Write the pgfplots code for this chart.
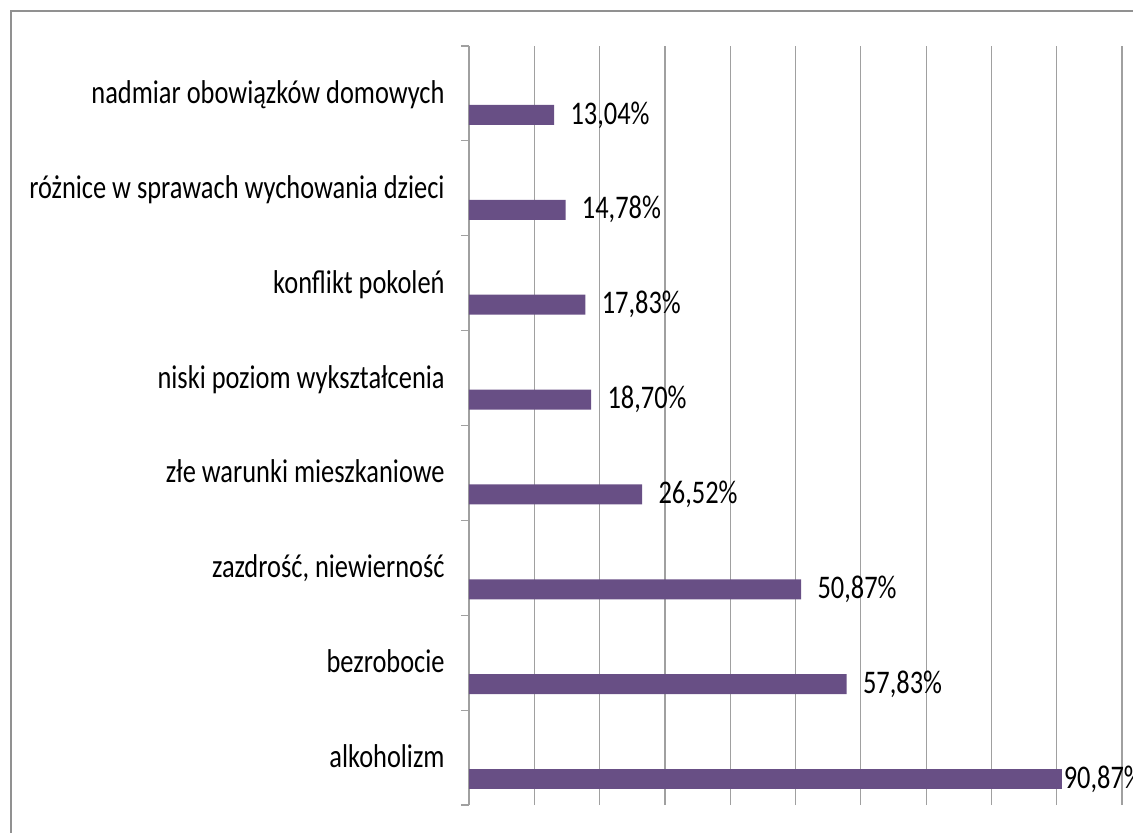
\documentclass[border=0pt]{standalone}
\usepackage{fontspec}
\setmainfont{Carlito}[FakeStretch=0.8]
\usepackage{pgfplots}
\pgfplotsset{compat=1.18}
\usetikzlibrary{calc}
\definecolor{barpurple}{RGB}{104,79,133}
\definecolor{gridgray}{RGB}{160,160,160}
\definecolor{framegray}{RGB}{145,145,145}

\begin{document}
\begin{tikzpicture}[font=\fontsize{16.5pt}{19pt}\selectfont]
\begin{axis}[
  name=ax,
  scale only axis, width=326.5pt, height=379.5pt,
  xbar, bar width=10pt, bar shift=-10.75pt,
  xmin=0, xmax=100, ymin=-0.5, ymax=7.5,
  axis lines=left, axis line style={-, draw=gridgray, line width=0.6pt},
  x axis line style={draw=none},
  xtick={10,20,...,100}, xticklabels={},
  xmajorgrids, grid style={gridgray, line width=0.6pt},
  ytick={0,...,7},
  yticklabels={alkoholizm, bezrobocie, {zazdrość, niewierność}, złe warunki mieszkaniowe,
    {niski poziom wykształcenia\ }, konflikt pokoleń,
    różnice w sprawach wychowania dzieci, nadmiar obowiązków domowych},
  minor ytick={-0.5,0.5,...,7.5},
  major tick length=0pt, minor tick length=4pt,
  tick align=outside,
  minor tick style={gridgray, line width=0.6pt},
  yticklabel style={anchor=east, inner sep=0pt, xshift=-12pt, yshift=-2pt,
    text height=0.8em, text depth=0.2em},
  point meta=x,
  nodes near coords={\pgfmathprintnumber[fixed,fixed zerofill,precision=2,use comma,assume math mode=true]{\pgfplotspointmeta}\%},
  nodes near coords align=horizontal,
  every node near coord/.append style={anchor=west, inner sep=0pt, xshift=8pt, text=black},
  clip=false,
]
\addplot[fill=barpurple, draw=none] coordinates
  {(57.83,1) (50.87,2) (26.52,3) (18.70,4) (17.83,5) (14.78,6) (13.04,7)};
\addplot[fill=barpurple, draw=none,
  every node near coord/.append style={xshift=-7.5pt}] coordinates
  {(90.87,0)};
\end{axis}
\draw[framegray, line width=1.25pt]
  ($(ax.north west)+(-229pt,17.5pt)$) rectangle +(620pt,-440pt);
\pgfresetboundingbox
\path ($(ax.south west)+(-234.5pt,-13.5pt)$) rectangle +(566.5pt,416pt);
\end{tikzpicture}
\end{document}
